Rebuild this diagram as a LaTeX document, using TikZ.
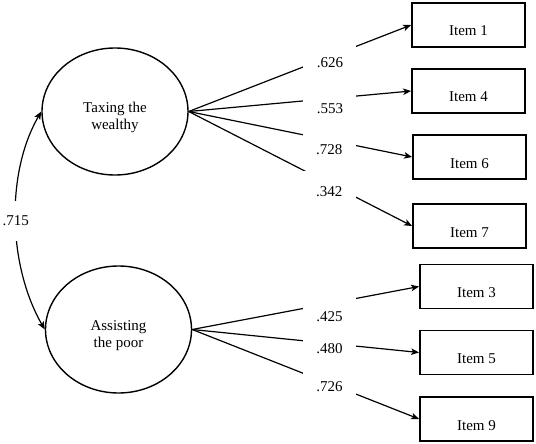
\documentclass[tikz,border=0pt]{standalone}
\usepackage{fontspec}
\setmainfont{Liberation Serif}
\usetikzlibrary{arrows.meta, shapes.geometric}

\begin{document}
\begin{tikzpicture}[x=1pt, y=-1pt,
		font=\fontsize{15}{17}\selectfont,
		latent/.style={draw, ellipse, line width=1.4pt, inner sep=0pt,
			minimum width=146pt, minimum height=127pt},
		lattext/.style={align=center, yshift=-6pt},
		item/.style={draw, line width=1.8pt, inner sep=0pt, minimum width=113pt,
			minimum height=44pt, text height=22pt, text depth=0pt},
		load/.style={fill=white, inner sep=0pt, minimum width=53pt, minimum height=42pt},
		ldg/.style={line width=1.2pt},
		>={Stealth[length=8pt, width=6.5pt, inset=2pt]}
	]
	\useasboundingbox (0,0) rectangle (536,444);

	% the two factors
	\node[latent, label={[lattext]center:Taxing the\\wealthy}] (tax) at (115,111.5) {};
	\node[latent, label={[lattext]center:Assisting\\the poor}] (pov) at (118.5,329.5) {};

	% indicators
	\node[item] (i1) at (468.5,25) {Item 1};
	\node[item] (i4) at (468.5,91) {Item 4};
	\node[item] (i6) at (469.5,157) {Item 6};
	\node[item] (i7) at (469.5,226) {Item 7};
	\node[item] (i3) at (476.5,286.5) {Item 3};
	\node[item] (i5) at (476.5,352.5) {Item 5};
	\node[item] (i9) at (476.5,419) {Item 9};

	% loadings: the white label node cuts the gap in each line
	\draw[ldg, ->] (tax.east) -- node[load, pos=0.635, yshift=-6.5pt] {.626} (i1.west);
	\draw[ldg, ->] (tax.east) -- node[load, pos=0.635, yshift=-10pt] {.553} (i4.west);
	\draw[ldg, ->] (tax.east) -- node[load, pos=0.629, yshift=-9pt] {.728} (i6.west);
	\draw[ldg, ->] (tax.east) -- node[load, pos=0.629, yshift=-8pt] {.342} (i7.west);
	\draw[ldg, ->] (pov.east) -- node[load, pos=0.605, yshift=-13pt] {.425} (i3.west);
	\draw[ldg, ->] (pov.east) -- node[load, pos=0.605, yshift=-5.5pt] {.480} (i5.west);
	\draw[ldg, ->] (pov.east) -- node[load, pos=0.605, yshift=-3pt] {.726} (i9.west);

	% factor correlation
	\draw[ldg, <->] (tax.west) to[out=240, in=120, looseness=0.85]
		node[fill=white, inner xsep=1pt, minimum height=40pt] (corr) {.715} (pov.west);
\end{tikzpicture}
\end{document}
